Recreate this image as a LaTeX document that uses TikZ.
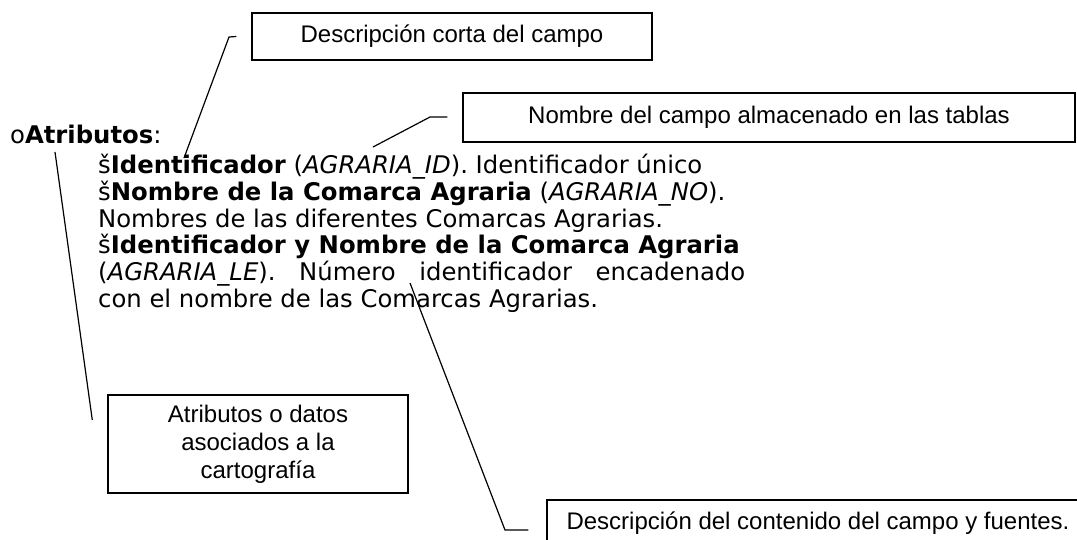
\documentclass[tikz,border=0pt]{standalone}
\usepackage{fontspec}
\setmainfont{DejaVu Sans}
\newfontfamily\cajafont{Liberation Sans}

\tikzset{
  caja/.style={draw,line width=1.4pt,inner sep=0pt,align=center,
    font=\cajafont\fontsize{24}{28}\selectfont},
  linea/.style={line width=1.2pt},
  texto/.style={anchor=base west,inner sep=0pt,font=\fontsize{24.3}{27}\selectfont}
}

\begin{document}
\begin{tikzpicture}[x=1pt,y=-1pt]
	 \clip (0,0) rectangle (1077,539);

	 % cajas de las notas
	 \node[caja,minimum width=400,minimum height=47](corta) at (452,36.5){Descripción corta del campo};
	 \node[caja,minimum width=612,minimum height=49](nombre) at (769,117.5){Nombre del campo almacenado en las tablas};
	 \node[caja,minimum width=300,minimum height=98](datos) at (258,444){Atributos o datos\\asociados a la\\cartografía};
	 \node[caja,minimum width=542,minimum height=47](conten) at (818,523.5){Descripción del contenido del campo y fuentes.};

	 % texto de la ficha
	 \node[texto](atrib) at (10,143){o\textbf{Atributos}:};
	 \node[texto](ident) at (98,173){š\textbf{Identificador} (\textit{AGRARIA\_ID}). Identificador único};
	 \node[texto](nomb) at (98,200){š\textbf{Nombre de la Comarca Agraria} (\textit{AGRARIA\_NO}).};
	 \node[texto](nombs) at (98,227){Nombres de las diferentes Comarcas Agrarias.};
	 \node[texto](idnom) at (98,253){š\textbf{Identificador y Nombre de la Comarca Agraria}};
	 \node[texto](le) at (98,280){\makebox[647pt][s]{(\textit{AGRARIA\_LE}). Número identificador encadenado}};
	 \node[texto](conel) at (98,307){con el nombre de las Comarcas Agrarias.};

	 % lineas de llamada
	 \coordinate (a-pie) at (184,158);
	 \coordinate (b-pie) at (373,147);
	 \coordinate (c-pie) at (55,152);
	 \coordinate (d-pie) at (410,283);
	 \draw[linea](a-pie) -- (229,37) -- ([xshift=-15]corta.west);
	 \draw[linea](b-pie) -- (430,117) -- ([xshift=-15]nombre.west|-0,117);
	 \draw[linea](c-pie) -- ([xshift=-15]datos.west|-0,420);
	 \draw[linea](d-pie) -- (505,530) -- ([xshift=-18]conten.west|-0,530);

\end{tikzpicture}
\end{document}
